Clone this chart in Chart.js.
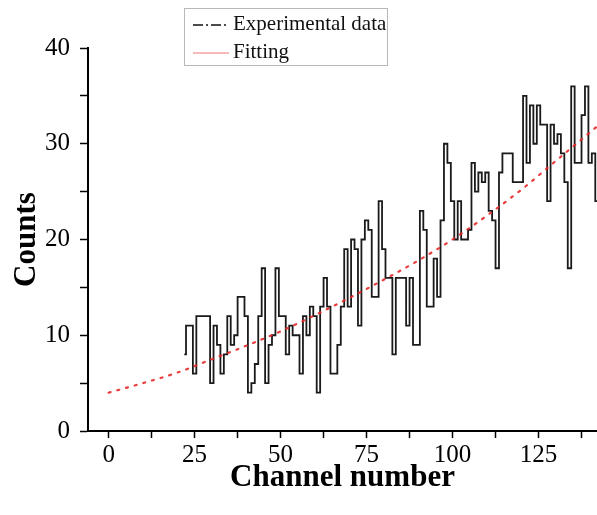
<!DOCTYPE html>
<html>
<head>
<meta charset="utf-8">
<script src="https://cdn.jsdelivr.net/npm/chart.js@4.4.0/dist/chart.umd.min.js"></script>
<style>
  html, body { margin: 0; padding: 0; background: #fff; }
  #wrap { width: 597px; height: 515px; position: relative; }
</style>
</head>
<body>
<div id="wrap"><canvas id="chart"></canvas></div>
<script>
// histogram counts, one per channel starting at firstChannel
const firstChannel = 22;
const counts = [
  8, 11, 11, 6, 12, 12, 12, 12, 5, 11,
  9, 6, 8, 12, 9, 10, 14, 14, 12, 4,
  5, 7, 12, 17, 5, 9, 10, 17, 12, 12,
  8, 11, 10, 10, 6, 12, 10, 13, 12, 4,
  13, 16, 13, 6, 6, 9, 13, 19, 13, 20,
  19, 11, 20, 22, 21, 14, 14, 24, 19, 16,
  16, 8, 16, 16, 16, 11, 16, 9, 9, 23,
  21, 13, 13, 18, 14, 22, 30, 28, 24, 20,
  24, 20, 20, 21, 28, 25, 27, 26, 27, 23,
  22, 17, 27, 29, 29, 29, 26, 26, 26, 35,
  28, 34, 30, 34, 32, 32, 24, 32, 30, 31,
  29, 26, 17, 36, 28, 28, 33, 36, 28, 29,
  24
];

// fitted curve
const fitChannels = [0, 10, 20, 30, 40, 50, 60, 70, 80, 90, 100, 110, 120, 130, 142];
const fitCounts = [4.0, 5.0, 6.1, 7.5, 8.9, 10.4, 12.1, 13.9, 15.8, 17.8, 20.0, 22.5, 25.2, 28.2, 31.8];

const xTickValues = [0, 12.5, 25, 37.5, 50, 62.5, 75, 87.5, 100, 112.5, 125, 137.5];
const xTickLabels = [0, 25, 50, 75, 100, 125];
const yTickValues = [0, 5, 10, 15, 20, 25, 30, 35, 40];
const yTickLabels = [0, 10, 20, 30, 40];
const seriesNames = ["Experimental data", "Fitting"];

const serif = "'Liberation Serif', 'Times New Roman', serif";

// boxed legend like the original figure
const legendBox = {
  id: 'legendBox',
  afterDraw(chart) {
    const ctx = chart.ctx;
    ctx.save();
    ctx.strokeStyle = '#b8b8b8';
    ctx.lineWidth = 1;
    ctx.strokeRect(184.5, 8.5, 203, 57);

    ctx.strokeStyle = '#111';
    ctx.lineWidth = 1.6;
    ctx.setLineDash([10, 3, 2, 3]);
    ctx.beginPath();
    ctx.moveTo(193, 25);
    ctx.lineTo(229, 25);
    ctx.stroke();

    ctx.strokeStyle = 'rgba(230,70,70,0.75)';
    ctx.lineWidth = 1;
    ctx.setLineDash([]);
    ctx.beginPath();
    ctx.moveTo(193, 53);
    ctx.lineTo(229, 53);
    ctx.stroke();

    ctx.fillStyle = '#111';
    ctx.font = "21px " + serif;
    ctx.textBaseline = 'middle';
    ctx.fillText(seriesNames[0], 233, 24);
    ctx.fillText(seriesNames[1], 233, 52);
    ctx.restore();
  }
};

new Chart(document.getElementById('chart'), {
  type: 'line',
  data: {
    datasets: [
      {
        label: seriesNames[0],
        data: counts.map((c, i) => ({ x: firstChannel + i, y: c })),
        stepped: 'middle',
        borderColor: '#1a1a1a',
        borderWidth: 1.8,
        pointRadius: 0,
        fill: false,
        order: 1
      },
      {
        label: seriesNames[1],
        data: fitChannels.map((c, i) => ({ x: c, y: fitCounts[i] })),
        borderColor: 'rgba(228,40,40,0.9)',
        borderWidth: 2.2,
        borderDash: [2, 7],
        borderCapStyle: 'round',
        cubicInterpolationMode: 'monotone',
        pointRadius: 0,
        fill: false,
        order: 0
      }
    ]
  },
  options: {
    responsive: true,
    maintainAspectRatio: false,
    animation: false,
    layout: { padding: { top: 48, right: 0, left: 0, bottom: 0 } },
    plugins: { legend: { display: false }, tooltip: { enabled: false } },
    scales: {
      x: {
        type: 'linear',
        min: -6,
        max: 142,
        afterBuildTicks: s => { s.ticks = xTickValues.map(v => ({ value: v })); },
        afterFit: s => { s.height = 84; },
        border: { display: true, color: '#000', width: 2 },
        grid: { drawOnChartArea: false, drawTicks: true, tickLength: 7, tickColor: '#000', tickWidth: 1.5 },
        ticks: {
          color: '#000',
          font: { family: serif, size: 25 },
          padding: 2,
          maxRotation: 0,
          autoSkip: false,
          callback: v => xTickLabels.includes(v) ? String(v) : ''
        },
        title: {
          display: true,
          text: 'Channel number',
          color: '#000',
          font: { family: serif, size: 31, weight: 'bold' },
          padding: { top: 0, bottom: 18 }
        }
      },
      y: {
        min: 0,
        max: 40,
        afterBuildTicks: s => { s.ticks = yTickValues.map(v => ({ value: v })); },
        afterFit: s => { s.width = 88; },
        border: { display: true, color: '#000', width: 2 },
        grid: { drawOnChartArea: false, drawTicks: true, tickLength: 8, tickColor: '#000', tickWidth: 1.5 },
        ticks: {
          color: '#000',
          font: { family: serif, size: 25 },
          padding: 10,
          autoSkip: false,
          callback: v => yTickLabels.includes(v) ? String(v) : ''
        },
        title: {
          display: true,
          text: 'Counts',
          color: '#000',
          font: { family: serif, size: 31, weight: 'bold' },
          padding: { top: 8, bottom: 0 }
        }
      }
    }
  },
  plugins: [legendBox]
});
</script>
</body>
</html>
